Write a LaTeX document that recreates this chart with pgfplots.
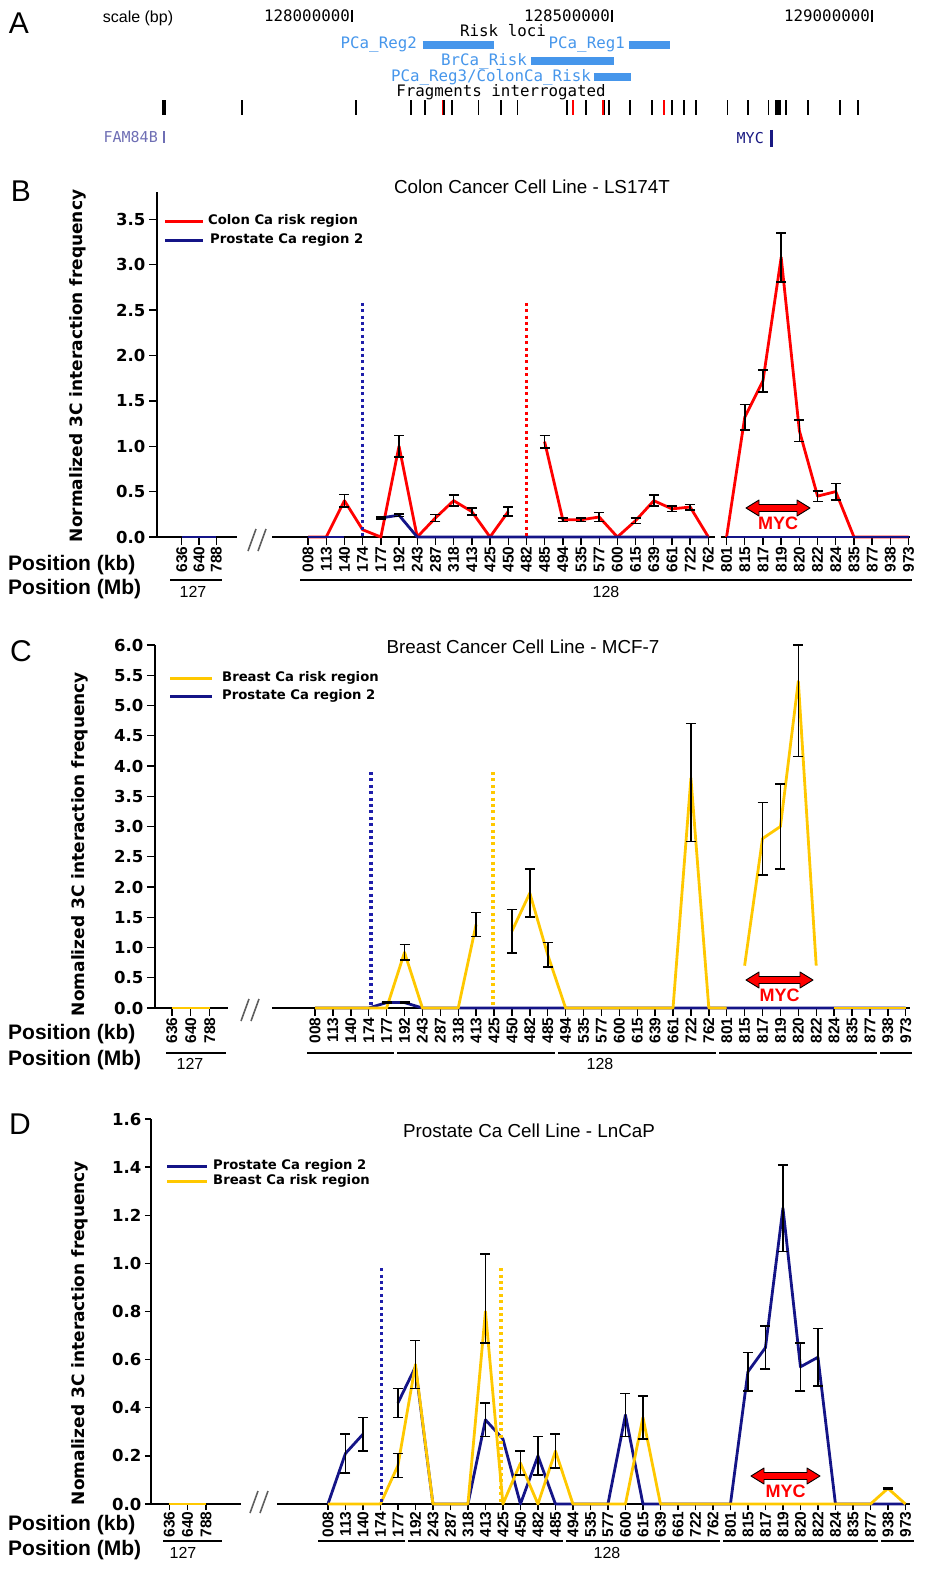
\documentclass[border=0pt]{standalone}
\usepackage{fontspec}
\setmainfont{DejaVu Sans}
\newfontfamily\arial{Liberation Sans}
\newfontfamily\mono{DejaVu Sans Mono}
\usepackage{pgfplots}
\pgfplotsset{compat=1.18}

\definecolor{navy}{RGB}{20,20,135}
\definecolor{dotnavy}{RGB}{30,30,170}
\definecolor{gold}{RGB}{255,200,0}
\definecolor{riskblue}{RGB}{70,150,235}
\definecolor{famblue}{RGB}{110,110,180}
\definecolor{mycblue}{RGB}{25,25,130}
\definecolor{brk}{RGB}{95,95,95}

\newcommand\fsz[1]{\fontsize{#1}{#1}\selectfont}

\tikzset{vdots/.style={line width=3.2pt, dash pattern=on 3pt off 3.4pt}}

\pgfplotsset{
  cc/.style={scale only axis, clip=false, anchor=origin,
    axis x line*=bottom, axis y line*=left,
    axis line style={black, line width=1.8pt},
    ymin=0, tick align=outside, major tick length=8pt,
    tick style={black, line width=1.4pt},
    yticklabel style={font=\fsz{16.5}\bfseries,
      /pgf/number format/fixed, /pgf/number format/fixed zerofill,
      /pgf/number format/precision=1, /pgf/number format/assume math mode=true},
    xticklabel style={font=\arial\bfseries\fsz{15.5}, rotate=90, anchor=east, inner sep=1.5pt},
    xticklabels={636,640,788,008,113,140,174,177,192,243,287,318,413,425,450,482,485,494,535,577,600,615,639,661,722,762,801,815,817,819,820,822,824,835,877,938,973}},
  ser/.style={forget plot, line width=2.8pt, line join=round, mark=none},
  ebar/.style={forget plot, only marks, mark=*, mark size=0pt,
    error bars/y dir=both, error bars/y explicit,
    error bars/error bar style={black, line width=1.6pt},
    error bars/error mark options={black, rotate=90, line width=1.6pt, mark size=5pt}},
}

\newcommand\mycarrow[3]{%
  \filldraw[fill=red, draw=black, line width=0.9pt, line join=round]
    (#1,-#3) -- ({#1+13},{-#3+8}) -- ({#1+13},{-#3+3.5}) -- ({#2-13},{-#3+3.5})
    -- ({#2-13},{-#3+8}) -- (#2,-#3) -- ({#2-13},{-#3-8}) -- ({#2-13},{-#3-3.5})
    -- ({#1+13},{-#3-3.5}) -- ({#1+13},{-#3-8}) -- cycle;
  \node[text=red, font=\arial\bfseries\fsz{18}] at ({(#1+#2)/2},{-#3-15}) {MYC};}

\newcommand\brkmark[2]{%
  \fill[white] ({#1-8},{-#2-2.5}) rectangle ({#1+8},{-#2+2.5});
  \draw[brk, line width=1.6pt] ({#1-10},{-#2-11}) -- ({#1-2},{-#2+11});
  \draw[brk, line width=1.6pt] ({#1},{-#2-11}) -- ({#1+8},{-#2+11});}

\begin{document}
\begin{tikzpicture}[x=1pt,y=1pt]

% ================= A : genome track =================
\begin{axis}[hide axis, scale only axis, clip=false, at={(0pt,0pt)}, anchor=north west,
  width=924pt, height=160pt, xmin=127323.08, xmax=129100, ymin=-160, ymax=0]
\addplot[riskblue, line width=7.5pt, forget plot] coordinates {(128136,-45) (128273,-45)};
\addplot[riskblue, line width=7.5pt, forget plot] coordinates {(128532,-45) (128611,-45)};
\addplot[riskblue, line width=7.5pt, forget plot] coordinates {(128344,-61) (128503,-61)};
\addplot[riskblue, line width=7.5pt, forget plot] coordinates {(128465,-77) (128536,-77)};
\addplot[only marks, mark=|, mark size=7.5pt, mark options={black, line width=1.7pt}, forget plot]
  coordinates {(127636,-108) (127640,-108) (127788,-108) (128008,-108) (128113,-108) (128140,-108)
  (128177,-108) (128192,-108) (128243,-108) (128287,-108) (128318,-108) (128413,-108) (128450,-108)
  (128485,-108) (128494,-108) (128535,-108) (128577,-108) (128615,-108) (128639,-108) (128661,-108)
  (128722,-108) (128762,-108) (128801,-108) (128815,-108) (128817,-108) (128819,-108) (128820,-108)
  (128822,-108) (128824,-108) (128835,-108) (128877,-108) (128938,-108) (128973,-108)};
\addplot[only marks, mark=|, mark size=7.5pt, mark options={red, line width=1.7pt}, forget plot]
  coordinates {(128174,-108) (128425,-108) (128482,-108) (128600,-108)};
\addplot[only marks, mark=|, mark size=6pt, mark options={famblue, line width=2.2pt}, forget plot]
  coordinates {(127638,-137.5)};
\addplot[only marks, mark=|, mark size=8.5pt, mark options={mycblue, line width=3pt}, forget plot]
  coordinates {(128806,-138.5)};
\end{axis}

\node[font=\arial\fsz{30}] at (19,-23) {A};
\node[font=\arial\fsz{16}] at (138,-18) {scale (bp)};
\node[font=\mono\fsz{15.8}, anchor=east, inner sep=0pt] at (350,-16) {128000000};
\node[font=\mono\fsz{15.8}, anchor=east, inner sep=0pt] at (610,-16) {128500000};
\node[font=\mono\fsz{15.8}, anchor=east, inner sep=0pt] at (870,-16) {129000000};
\draw[line width=1.5pt] (352,-10) -- (352,-22);
\draw[line width=1.5pt] (612,-10) -- (612,-22);
\draw[line width=1.5pt] (872,-10) -- (872,-22);
\node[font=\mono\fsz{15.8}] at (503,-30.5) {Risk loci};
\node[font=\mono\fsz{15.8}, text=riskblue, anchor=east, inner sep=0pt] at (417,-45) {PCa\_Reg2};
\node[font=\mono\fsz{15.8}, text=riskblue, anchor=east, inner sep=0pt] at (625,-45) {PCa\_Reg1};
\node[font=\mono\fsz{15.8}, text=riskblue, anchor=east, inner sep=0pt] at (527,-61) {BrCa\_Risk};
\node[font=\mono\fsz{15.8}, text=riskblue, anchor=east, inner sep=0pt] at (591,-77) {PCa\_Reg3/ColonCa\_Risk};
\node[font=\mono\fsz{15.8}] at (501,-92) {Fragments interrogated};
\node[font=\mono\fsz{15}, text=famblue, anchor=east, inner sep=0pt] at (158,-137.5) {FAM84B};
\node[font=\mono\fsz{15}, text=mycblue, anchor=east, inner sep=0pt] at (764,-138) {MYC};

% ================= B : LS174T =================
\begin{axis}[cc, at={(308.04pt,-537pt)}, width=753pt, height=345pt,
  xmin=-8.3, xmax=33.08, ymax=3.8, ytick={0,0.5,1,1.5,2,2.5,3,3.5},
  xtick={-6.94,-5.99,-5.04,0,1,2,3,4,5,6,7,8,9,10,11,12,13,14,15,16,17,18,19,20,21,22,23,24,25,26,27,28,29,30,31,32,33}]
% Colon Ca risk region
\addplot[ser, red] coordinates {(-6.94,0) (-5.99,0) (-5.04,0)};
\addplot[ser, red] coordinates {(0,0) (1,0) (2,0.40) (3,0.08) (4,0) (5,1.00) (6,0) (7,0.21) (8,0.40) (9,0.28) (10,0) (11,0.28)};
\addplot[ser, red] coordinates {(13,1.05) (14,0.19) (15,0.19) (16,0.22) (17,0) (18,0.18) (19,0.40) (20,0.31) (21,0.33) (22,0)};
\addplot[ser, red] coordinates {(23,0) (24,1.32) (25,1.72) (26,3.08) (27,1.17) (28,0.45) (29,0.50) (30,0) (31,0) (32,0) (33,0)};
% Prostate Ca region 2
\addplot[ser, navy] coordinates {(-6.94,0) (-5.99,0) (-5.04,0)};
\addplot[ser, navy] coordinates {(0,0) (1,0) (2,0)};
\addplot[ser, navy] coordinates {(4,0.21) (5,0.24) (6,0) (7,0) (8,0) (9,0) (10,0) (11,0) (12,0) (13,0) (14,0) (15,0) (16,0) (17,0) (18,0) (19,0) (20,0) (21,0) (22,0)};
\addplot[ser, navy] coordinates {(23,0) (24,0) (25,0) (26,0) (27,0) (28,0) (29,0) (30,0) (31,0) (32,0) (33,0)};
\addplot[ebar] coordinates {(2,0.40) +- (0,0.07) (5,1.00) +- (0,0.12) (7,0.21) +- (0,0.04)
  (8,0.40) +- (0,0.06) (9,0.28) +- (0,0.04) (11,0.28) +- (0,0.05) (13,1.05) +- (0,0.07)
  (14,0.19) +- (0,0.02) (15,0.19) +- (0,0.02) (16,0.22) +- (0,0.05) (18,0.18) +- (0,0.03)
  (19,0.40) +- (0,0.06) (20,0.31) +- (0,0.03) (21,0.33) +- (0,0.03) (24,1.32) +- (0,0.14)
  (25,1.72) +- (0,0.12) (26,3.08) +- (0,0.27) (27,1.17) +- (0,0.12) (28,0.45) +- (0,0.06)
  (29,0.50) +- (0,0.09) (4,0.21) +- (0,0.012) (5,0.24) +- (0,0.012)};
\draw[vdots, dotnavy] (axis cs:3,2.58) -- (axis cs:3,0);
\draw[vdots, red] (axis cs:12,2.58) -- (axis cs:12,0);
\end{axis}

% ================= C : MCF-7 =================
\begin{axis}[cc, at={(315.02pt,-1008pt)}, width=755pt, height=363pt,
  xmin=-8.94, xmax=33.24, ymax=6, ytick={0,0.5,1,1.5,2,2.5,3,3.5,4,4.5,5,5.5,6},
  xtick={-8.0,-6.94,-5.88,0,1,2,3,4,5,6,7,8,9,10,11,12,13,14,15,16,17,18,19,20,21,22,23,24,25,26,27,28,29,30,31,32,33}]
% Prostate Ca region 2
\addplot[ser, navy] coordinates {(-8.0,0) (-6.94,0) (-5.88,0)};
\addplot[ser, navy] coordinates {(0,0) (1,0) (2,0) (3,0) (4,0.09) (5,0.09) (6,0) (7,0) (8,0) (9,0) (10,0) (11,0) (12,0) (13,0) (14,0) (15,0) (16,0) (17,0) (18,0) (19,0) (20,0) (21,0) (22,0) (23,0) (24,0) (25,0) (26,0) (27,0) (28,0) (29,0) (30,0) (31,0) (32,0) (33,0)};
% Breast Ca risk region
\addplot[ser, gold] coordinates {(-8.0,0) (-6.94,0) (-5.88,0)};
\addplot[ser, gold] coordinates {(0,0) (1,0) (2,0) (3,0) (4,0) (5,0.92) (6,0) (7,0) (8,0) (9,1.38)};
\addplot[ser, gold] coordinates {(11,1.27) (12,1.90) (13,0.88) (14,0) (15,0) (16,0) (17,0) (18,0) (19,0) (20,0) (21,3.80) (22,0) (23,0)};
\addplot[ser, gold] coordinates {(24,0.70) (25,2.80) (26,3.00) (27,5.40) (28,0.70)};
\addplot[ser, gold] coordinates {(29,0) (30,0) (31,0) (32,0) (33,0)};
\addplot[ebar] coordinates {(4,0.09) +- (0,0.012) (5,0.09) +- (0,0.012)
  (5,0.92) +- (0,0.13) (9,1.38) +- (0,0.20) (11,1.27) +- (0,0.36) (12,1.90) +- (0,0.40)
  (13,0.88) +- (0,0.20) (21,3.80) += (0,0.90) -= (0,1.05) (25,2.80) +- (0,0.60)
  (26,3.00) +- (0,0.70) (27,5.40) += (0,0.60) -= (0,1.24)};
\draw[vdots, dotnavy] (axis cs:3.13,3.9) -- (axis cs:3.13,0);
\draw[vdots, gold] (axis cs:9.94,3.9) -- (axis cs:9.94,0);
\end{axis}

% ================= D : LnCaP =================
\begin{axis}[cc, at={(327.93pt,-1504pt)}, width=759pt, height=385pt,
  xmin=-10.11, xmax=33.26, ymax=1.6, ytick={0,0.2,0.4,0.6,0.8,1.0,1.2,1.4,1.6},
  major tick length=6pt,
  xtick={-9.07,-8.02,-6.97,0,1,2,3,4,5,6,7,8,9,10,11,12,13,14,15,16,17,18,19,20,21,22,23,24,25,26,27,28,29,30,31,32,33}]
% Prostate Ca region 2
\addplot[ser, navy] coordinates {(-9.07,0) (-8.02,0) (-6.97,0)};
\addplot[ser, navy] coordinates {(0,0) (1,0.21) (2,0.29)};
\addplot[ser, navy] coordinates {(4,0.42) (5,0.57) (6,0) (7,0) (8,0) (9,0.35) (10,0.27) (11,0) (12,0.20) (13,0) (14,0) (15,0) (16,0) (17,0.37) (18,0) (19,0) (20,0) (21,0) (22,0) (23,0) (24,0.55) (25,0.65) (26,1.23) (27,0.57) (28,0.61) (29,0) (30,0) (31,0) (32,0) (33,0)};
% Breast Ca risk region
\addplot[ser, gold] coordinates {(-9.07,0) (-8.02,0) (-6.97,0)};
\addplot[ser, gold] coordinates {(0,0) (1,0) (2,0) (3,0) (4,0.16) (5,0.58) (6,0) (7,0) (8,0) (9,0.80) (10,0) (11,0.17) (12,0) (13,0.22) (14,0) (15,0) (16,0) (17,0) (18,0.36) (19,0) (20,0) (21,0) (22,0) (23,0) (24,0) (25,0) (26,0) (27,0) (28,0) (29,0) (30,0) (31,0) (32,0.065) (33,0)};
\addplot[ebar] coordinates {(1,0.21) +- (0,0.08) (2,0.29) +- (0,0.07) (4,0.42) +- (0,0.06)
  (9,0.35) +- (0,0.07) (12,0.20) +- (0,0.08) (17,0.37) +- (0,0.09) (24,0.55) +- (0,0.08)
  (25,0.65) +- (0,0.09) (26,1.23) +- (0,0.18) (27,0.57) +- (0,0.10) (28,0.61) +- (0,0.12)
  (4,0.16) +- (0,0.05) (5,0.58) +- (0,0.10) (9,0.80) += (0,0.24) -= (0,0.13)
  (11,0.17) +- (0,0.05) (13,0.22) +- (0,0.07) (18,0.36) +- (0,0.09) (32,0.065) +- (0,0.003)};
\draw[vdots, dotnavy] (axis cs:3.06,0.98) -- (axis cs:3.06,0);
\draw[vdots, gold] (axis cs:9.89,0.98) -- (axis cs:9.89,0);
\end{axis}

% ----- breaks in the x axes
\fill[white] (237,-534.5) rectangle (272,-539.5);
\fill[white] (715,-534.5) rectangle (721,-539.5);
\fill[white] (228,-1005.5) rectangle (272,-1010.5);
\fill[white] (241,-1501.5) rectangle (277,-1506.5);
\brkmark{258}{540}
\brkmark{251}{1010}
\brkmark{260}{1502}

% ----- panel letters, titles, y labels
\node[font=\arial\fsz{30}] at (21,-191) {B};
\node[font=\arial\fsz{30}] at (21,-651) {C};
\node[font=\arial\fsz{30}] at (20,-1124) {D};
\node[font=\arial\fsz{18.8}] at (532,-187) {Colon Cancer Cell Line - LS174T};
\node[font=\arial\fsz{18.8}] at (523,-647) {Breast Cancer Cell Line - MCF-7};
\node[font=\arial\fsz{18.8}] at (529,-1131) {Prostate Ca Cell Line - LnCaP};
\node[rotate=90, font=\bfseries\fsz{17}] at (78,-366) {Normalized 3C interaction frequency};
\node[rotate=90, font=\bfseries\fsz{17}] at (80,-844) {Nomalized 3C interaction frequency};
\node[rotate=90, font=\bfseries\fsz{17}] at (80,-1333) {Nomalized 3C interaction frequency};

% ----- legends
\draw[red, line width=3pt] (165,-221) -- (203,-221);
\node[font=\bfseries\fsz{13.2}, anchor=west, inner sep=0pt] at (208,-221) {Colon Ca risk region};
\draw[navy, line width=3pt] (165,-240) -- (203,-240);
\node[font=\bfseries\fsz{13.2}, anchor=west, inner sep=0pt] at (210,-240) {Prostate Ca region 2};
\draw[gold, line width=3pt] (170,-678) -- (212,-678);
\node[font=\bfseries\fsz{13.2}, anchor=west, inner sep=0pt] at (222,-678) {Breast Ca risk region};
\draw[navy, line width=3pt] (170,-696) -- (212,-696);
\node[font=\bfseries\fsz{13.2}, anchor=west, inner sep=0pt] at (222,-696) {Prostate Ca region 2};
\draw[navy, line width=3pt] (167,-1166) -- (207,-1166);
\node[font=\bfseries\fsz{13.2}, anchor=west, inner sep=0pt] at (213,-1166) {Prostate Ca region 2};
\draw[gold, line width=3pt] (167,-1181) -- (207,-1181);
\node[font=\bfseries\fsz{13.2}, anchor=west, inner sep=0pt] at (213,-1181) {Breast Ca risk region};

% ----- MYC arrows
\mycarrow{746}{810}{508}
\mycarrow{746}{813}{980}
\mycarrow{751}{820}{1476}

% ----- position rows
\node[font=\arial\bfseries\fsz{21}, anchor=west, inner sep=0pt] at (8,-565) {Position (kb)};
\node[font=\arial\bfseries\fsz{21}, anchor=west, inner sep=0pt] at (8,-589) {Position (Mb)};
\node[font=\arial\bfseries\fsz{21}, anchor=west, inner sep=0pt] at (8,-1034) {Position (kb)};
\node[font=\arial\bfseries\fsz{21}, anchor=west, inner sep=0pt] at (8,-1060) {Position (Mb)};
\node[font=\arial\bfseries\fsz{21}, anchor=west, inner sep=0pt] at (8,-1525) {Position (kb)};
\node[font=\arial\bfseries\fsz{21}, anchor=west, inner sep=0pt] at (8,-1550) {Position (Mb)};

\draw[line width=1.5pt] (170,-580) -- (222,-580);
\node[font=\arial\fsz{16}] at (193,-592) {127};
\draw[line width=1.5pt] (300,-580) -- (912,-580);
\node[font=\arial\fsz{16}] at (606,-592) {128};

\draw[line width=1.5pt] (166,-1053) -- (226,-1053);
\node[font=\arial\fsz{16}] at (190,-1064) {127};
\foreach \a/\b in {307/394,397/555,558/716,719/877,880/912}
  \draw[line width=1.5pt] (\a,-1053) -- (\b,-1053);
\node[font=\arial\fsz{16}] at (600,-1064) {128};

\draw[line width=1.5pt] (163,-1541) -- (222,-1541);
\node[font=\arial\fsz{16}] at (183,-1553) {127};
\foreach \a/\b in {318/405,408/563,566/720,723/878,881/914}
  \draw[line width=1.5pt] (\a,-1541) -- (\b,-1541);
\node[font=\arial\fsz{16}] at (607,-1553) {128};

\pgfresetboundingbox
\useasboundingbox (0,0) rectangle (924,-1573);
\end{tikzpicture}
\end{document}
